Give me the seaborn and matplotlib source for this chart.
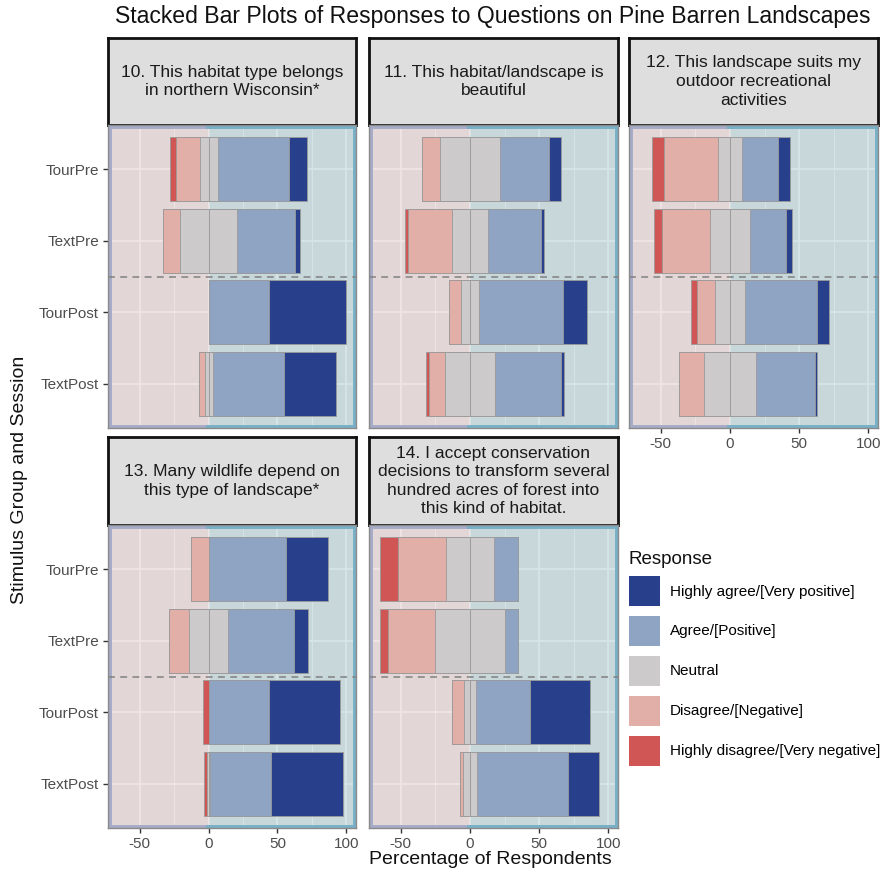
import matplotlib
matplotlib.use("Agg")
import matplotlib.pyplot as plt
import matplotlib.transforms as mtrans
from matplotlib.patches import Patch
import numpy as np
import pandas as pd
import seaborn as sns

# ---- data -------------------------------------------------------------
groups = ["TourPre", "TextPre", "TourPost", "TextPost"]

questions = [
    "10. This habitat type belongs\nin northern Wisconsin*",
    "11. This habitat/landscape is\nbeautiful",
    "12. This landscape suits my\noutdoor recreational\nactivities",
    "13. Many wildlife depend on\nthis type of landscape*",
    "14. I accept conservation\ndecisions to transform several\nhundred acres of forest into\nthis kind of habitat.",
]

responses = [
    "Highly agree/[Very positive]",
    "Agree/[Positive]",
    "Neutral",
    "Disagree/[Negative]",
    "Highly disagree/[Very negative]",
]

# percentages per question (rows) and group (columns, same order as `groups`)
highly_disagree = [
    [4.8, 0.0, 0.0, 0.0],
    [0.0, 2.5, 0.0, 2.4],
    [9.2, 6.1, 4.8, 0.0],
    [0.0, 0.0, 4.3, 1.9],
    [13.3, 6.0, 0.0, 0.0],
]
disagree = [
    [17.0, 12.5, 0.0, 4.3],
    [13.3, 31.8, 9.2, 11.9],
    [38.7, 34.3, 12.8, 17.9],
    [13.0, 14.5, 0.0, 0.0],
    [34.8, 34.0, 9.1, 2.6],
]
neutral = [
    [13.0, 41.7, 0.0, 5.8],
    [43.0, 25.6, 12.5, 35.7],
    [17.6, 29.4, 21.8, 38.2],
    [0.0, 27.8, 0.0, 2.2],
    [34.5, 50.0, 8.2, 9.7],
]
agree = [
    [52.2, 41.7, 43.5, 52.2],
    [35.3, 38.4, 61.1, 48.1],
    [26.1, 26.1, 52.1, 42.0],
    [56.5, 48.1, 43.5, 44.1],
    [17.4, 10.0, 39.4, 66.2],
]
highly_agree = [
    [13.0, 4.1, 56.5, 37.7],
    [8.7, 2.0, 17.4, 1.9],
    [8.7, 4.1, 8.7, 1.9],
    [30.5, 10.1, 52.2, 52.1],
    [0.0, 0.0, 43.5, 21.9],
]

colors = {
    "HA": "#283f8c",
    "A": "#8fa4c2",
    "N": "#cccaca",
    "D": "#e1aea8",
    "HD": "#d05656",
}

# ---- layout -----------------------------------------------------------
plt.rcParams["font.family"] = ["Liberation Sans", "DejaVu Sans"]
W, H = 884, 873
fig = plt.figure(figsize=(W / 100, H / 100), dpi=100)


def frect(x0, y0, x1, y1):
    return [x0 / W, 1 - y1 / H, (x1 - x0) / W, (y1 - y0) / H]


col_x = [(108, 356), (369, 618), (629, 878)]
row_y = [(38, 125, 428), (437, 525, 828)]
XMIN, XMAX = -73, 107

neg_tint = (195 / 255, 130 / 255, 135 / 255)
pos_tint = (60 / 255, 140 / 255, 150 / 255)
neg_edge = "#a6abc8"
pos_edge = "#79b0c7"

for qi, title in enumerate(questions):
    r, c = divmod(qi, 3)
    x0, x1 = col_x[c]
    s0, p0, p1 = row_y[r]

    # facet strip
    sax = fig.add_axes(frect(x0, s0, x1, p0))
    sax.set_facecolor("#dedede")
    sax.set_xticks([])
    sax.set_yticks([])
    for sp in sax.spines.values():
        sp.set_color("#111111")
        sp.set_linewidth(2.0)
    sax.text(0.5, 0.5, title, ha="center", va="center", fontsize=12.5,
             color="#1a1a1a", linespacing=1.3, transform=sax.transAxes)

    ax = fig.add_axes(frect(x0, p0, x1, p1))
    ax.set_facecolor("#ebebeb")

    hd = np.array(highly_disagree[qi])
    d = np.array(disagree[qi])
    n = np.array(neutral[qi])
    a = np.array(agree[qi])
    ha = np.array(highly_agree[qi])

    # diverging stack: neutral split around zero, widest layer drawn first
    layers = [
        (-(n / 2 + d + hd), colors["HD"]),
        (-(n / 2 + d), colors["D"]),
        (-(n / 2), colors["N"]),
        (n / 2 + a + ha, colors["HA"]),
        (n / 2 + a, colors["A"]),
        (n / 2, colors["N"]),
    ]
    for vals, col in layers:
        df = pd.DataFrame({"group": groups, "pct": vals})
        sns.barplot(data=df, x="pct", y="group", order=groups, orient="h",
                    color=col, saturation=1, width=0.9, edgecolor="#9a9a9a",
                    linewidth=0.6, ax=ax, zorder=3)

    ax.set_xlim(XMIN, XMAX)
    ax.set_ylim(3.62, -0.62)

    # tinted halves of the panel
    ax.axvspan(XMIN, 0, color=neg_tint, alpha=0.2, lw=0, zorder=1)
    ax.axvspan(0, XMAX, color=pos_tint, alpha=0.2, lw=0, zorder=1)
    tr = mtrans.blended_transform_factory(ax.transData, ax.transAxes)
    for xs, ys, col in [
        ([XMIN, 0], [1, 1], neg_edge), ([XMIN, 0], [0, 0], neg_edge),
        ([XMIN, XMIN], [0, 1], neg_edge),
        ([0, XMAX], [1, 1], pos_edge), ([0, XMAX], [0, 0], pos_edge),
        ([XMAX, XMAX], [0, 1], pos_edge),
    ]:
        ax.plot(xs, ys, color=col, lw=5, transform=tr, zorder=2)

    # separator between pre and post sessions
    ax.axhline(1.5, color="#808080", lw=1.1, ls=(0, (4.5, 3.5)), zorder=4)

    # grid
    ax.set_xticks([-50, 0, 50, 100])
    ax.set_xticks([-25, 25, 75], minor=True)
    ax.set_axisbelow(True)
    ax.grid(True, which="major", axis="both", color="white", lw=1.1, zorder=0)
    ax.grid(True, which="minor", axis="x", color="white", lw=0.55, zorder=0)
    ax.tick_params(which="minor", length=0)
    ax.tick_params(which="major", length=3.5, width=1, color="#333333",
                   labelcolor="#4d4d4d", labelsize=11, pad=3)

    for sp in ax.spines.values():
        sp.set_color("#8a8a8a")
        sp.set_linewidth(1.0)
        sp.set_zorder(5)

    ax.set_xlabel("")
    ax.set_ylabel("")
    show_x = (r == 1) or (c == 2)
    show_y = (c == 0)
    if show_x:
        ax.set_xticklabels(["-50", "0", "50", "100"])
    else:
        ax.tick_params(axis="x", length=0, labelbottom=False)
    if not show_y:
        ax.tick_params(axis="y", length=0, labelleft=False)

# ---- titles ------------------------------------------------------------
fig.text(493 / W, 1 - 17 / H, "Stacked Bar Plots of Responses to Questions on Pine Barren Landscapes",
         ha="center", va="center", fontsize=16.6, color="#111111")
fig.text(490 / W, 1 - 859 / H, "Percentage of Respondents", ha="center", va="center",
         fontsize=14, color="#111111")
fig.text(20 / W, 1 - 480 / H, "Stimulus Group and Session", ha="center", va="center",
         rotation=90, fontsize=14, color="#111111")

# ---- legend ------------------------------------------------------------
keys = ["HA", "A", "N", "D", "HD"]
handles = [Patch(facecolor=colors[k], edgecolor="none") for k in keys]
fig.text(629 / W, 1 - 560 / H, "Response", ha="left", va="center",
         fontsize=13.5, color="#111111")
fig.legend(handles, responses, loc="upper left",
           bbox_to_anchor=(629 / W, 1 - 576 / H), frameon=False, fontsize=11,
           handlelength=2.03, handleheight=2.64,
           labelspacing=0.65, handletextpad=0.65, borderpad=0,
           borderaxespad=0)

fig.savefig("out.png", dpi=100)
